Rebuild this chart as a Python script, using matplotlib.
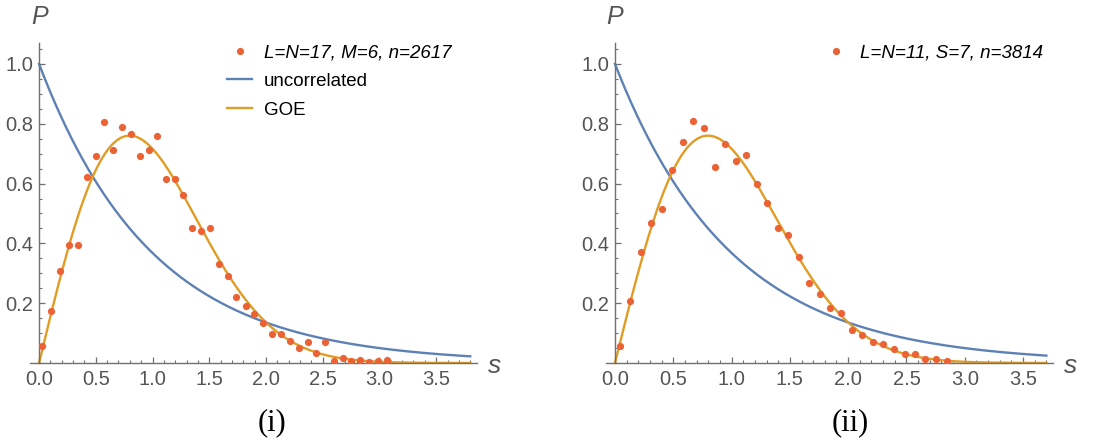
import numpy as np
import matplotlib.pyplot as plt
from matplotlib.ticker import MultipleLocator, FixedLocator

plt.rcParams['font.family'] = ['Liberation Sans', 'DejaVu Sans']

# 左图数据 (L=N=17, M=6)
s_left = [0.03, 0.106, 0.186, 0.265, 0.342, 0.419, 0.499, 0.575, 0.652, 0.73,
          0.808, 0.888, 0.965, 1.041, 1.118, 1.195, 1.271, 1.351, 1.428, 1.507,
          1.587, 1.664, 1.74, 1.82, 1.897, 1.973, 2.053, 2.13, 2.21, 2.289,
          2.366, 2.442, 2.519, 2.596, 2.675, 2.752, 2.832, 2.91, 2.985, 3.065]
p_left = [0.058, 0.175, 0.307, 0.394, 0.394, 0.621, 0.691, 0.807, 0.713, 0.789,
          0.766, 0.691, 0.713, 0.760, 0.615, 0.615, 0.563, 0.451, 0.441, 0.451,
          0.331, 0.290, 0.221, 0.192, 0.163, 0.134, 0.098, 0.098, 0.075, 0.051,
          0.069, 0.033, 0.069, 0.006, 0.017, 0.006, 0.011, 0.003, 0.006, 0.011]

# 右图数据 (L=N=11, S=7)
s_right = [0.043, 0.132, 0.223, 0.312, 0.403, 0.492, 0.581, 0.672, 0.764, 0.855,
           0.944, 1.036, 1.127, 1.216, 1.305, 1.396, 1.488, 1.577, 1.668, 1.760,
           1.848, 1.937, 2.029, 2.120, 2.212, 2.300, 2.392, 2.484, 2.572, 2.661,
           2.752, 2.844]
p_right = [0.058, 0.208, 0.371, 0.468, 0.516, 0.645, 0.738, 0.810, 0.786, 0.656,
           0.731, 0.677, 0.697, 0.599, 0.534, 0.450, 0.427, 0.356, 0.266, 0.232,
           0.184, 0.167, 0.111, 0.093, 0.071, 0.062, 0.048, 0.031, 0.031, 0.014,
           0.014, 0.008]

label_left = 'L=N=17, M=6, n=2617'
label_right = 'L=N=11, S=7, n=3814'

c_pts = '#EB6235'
c_poi = '#5E81B5'
c_goe = '#E19C24'
ax_col = '#707070'
tick_col = '#555555'

W, H = 1116, 443
fig = plt.figure(figsize=(W / 100, H / 100), dpi=100)


def make_panel(left_px, width_px, xlim, s_end, s, p, lab, legend_lines, leg_xy, cap, cap_x):
    ax = fig.add_axes([left_px / W, (H - 363) / H, width_px / W, 320 / H])
    ss = np.linspace(0, s_end, 400)
    ax.plot(s, p, 'o', color=c_pts, ms=5.2, mec='none', label=lab, zorder=3)
    l1, = ax.plot(ss, np.exp(-ss), color=c_poi, lw=1.7, label='uncorrelated')
    l2, = ax.plot(ss, np.pi / 2 * ss * np.exp(-np.pi * ss ** 2 / 4), color=c_goe, lw=1.7, label='GOE')
    ax.set_xlim(*xlim)
    ax.set_ylim(0, 1.07)
    for k in ['top', 'right']:
        ax.spines[k].set_visible(False)
    ax.spines['left'].set_position(('data', 0))
    ax.spines['bottom'].set_position(('data', 0))
    for k in ['left', 'bottom']:
        ax.spines[k].set_color(ax_col)
        ax.spines[k].set_linewidth(1.0)
    ax.xaxis.set_major_locator(FixedLocator(np.arange(0, 3.6, 0.5)))
    ax.xaxis.set_minor_locator(MultipleLocator(0.1))
    ax.yaxis.set_major_locator(FixedLocator([0.2, 0.4, 0.6, 0.8, 1.0]))
    ax.yaxis.set_minor_locator(MultipleLocator(0.05))
    ax.xaxis.set_major_formatter(plt.FuncFormatter(lambda v, _: f'{v:.1f}'))
    ax.yaxis.set_major_formatter(plt.FuncFormatter(lambda v, _: f'{v:.1f}'))
    ax.tick_params(which='both', direction='in', color=ax_col, labelcolor=tick_col, labelsize=14.5)
    ax.tick_params(which='major', length=4.5, width=0.9)
    ax.tick_params(which='minor', length=2.5, width=0.8)
    ax.tick_params(axis='x', pad=5)
    ax.tick_params(axis='y', pad=4)
    # 坐标轴标签
    x0 = ax.transData.transform((0, 0))[0]
    fig.text(x0 / W, 1 - 17 / H, 'P', style='italic', color=tick_col, fontsize=18, ha='center', va='center')
    fig.text((left_px + width_px + 18) / W, 1 - 366 / H, 's', style='italic', color=tick_col,
             fontsize=19, ha='center', va='center')
    handles = [ax.lines[0]] + ([l1, l2] if legend_lines else [])
    leg = ax.legend(handles=handles, loc='upper left', bbox_to_anchor=(leg_xy[0] / W, 1 - leg_xy[1] / H),
                    bbox_transform=fig.transFigure, frameon=False, borderpad=0, borderaxespad=0,
                    fontsize=13.5, handlelength=1.35, handletextpad=0.6, labelspacing=0.62)
    leg.get_texts()[0].set_style('italic')
    fig.text(cap_x / W, 1 - 423 / H, cap, family=['Liberation Serif', 'DejaVu Serif'], fontsize=22,
             ha='center', va='center')
    return ax


make_panel(30, 447, (-0.08, 3.86), 3.8, s_left, p_left, label_left, True, (227, 44), '(i)', 272)
make_panel(606, 447, (-0.077, 3.757), 3.7, s_right, p_right, label_right, False, (823, 44), '(ii)', 850)

plt.savefig('out.png', dpi=100)
